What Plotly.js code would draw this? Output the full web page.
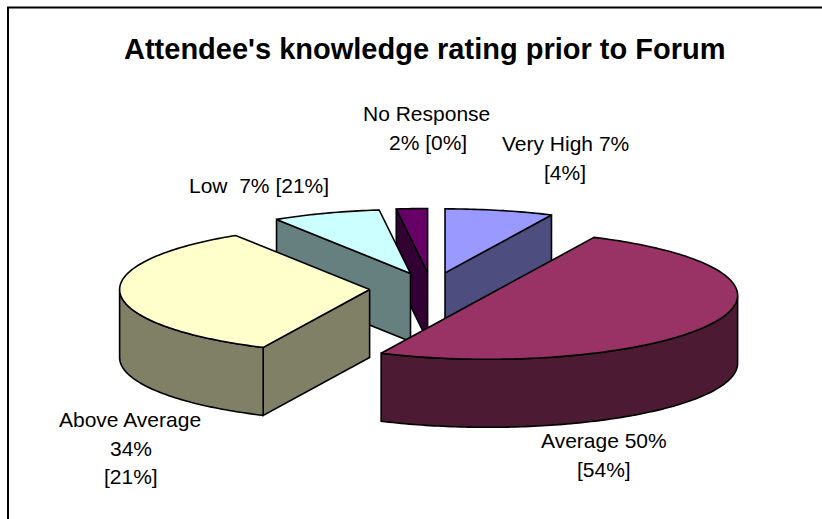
<!DOCTYPE html>
<html>
<head>
<meta charset="utf-8">
<script src="https://cdn.plot.ly/plotly-3.0.1.min.js"></script>
<style>html,body{margin:0;padding:0;background:#fff}#c{width:822px;height:519px}</style>
</head>
<body>
<div id="c"></div>
<script>
// Data (clockwise from 12 o'clock)
const categories = ['Very High', 'Average', 'Above Average', 'Low', 'No Response'];
const values = [7, 50, 34, 7, 2];
const priorValues = [4, 54, 21, 21, 0];
const titleText = "Attendee's knowledge rating prior to Forum";
const topColors = ['#9999FF', '#993366', '#FFFFCC', '#CCFFFF', '#660066'];
const sideColors = ['#4D4D80', '#4D1A33', '#808066', '#668080', '#330033'];
const drawOrder = [4, 3, 0, 2, 1];
const labelLines = [
  ['Very High 7%', '[4%]'],
  ['Average 50%', '[54%]'],
  ['Above Average', '34%', '[21%]'],
  ['Low  7% [21%]'],
  ['No Response', '2% [0%]']
];
const labelX = [[565, 565], [604, 604], [130, 131, 131], [259], [426, 428]];
const labelY = [[143, 172], [440, 469], [419, 448, 476], [185], [113, 142]];

// Projection of the tilted, exploded pie
const geo = {cx: 431.5, cy: 288.5, rx: 250, ry: 64, depth: 68, ex: 62, ey: 16};
const rad = d => d * Math.PI / 180;
const total = values.reduce((a, b) => a + b, 0);
const starts = [];
values.reduce((acc, v, i) => { starts[i] = acc; return acc + v; }, 0);

function slice(i) {
  const a = starts[i] / total * 360, b = a + values[i] / total * 360, m = (a + b) / 2;
  const ox = geo.cx + geo.ex * Math.sin(rad(m)), oy = geo.cy - geo.ey * Math.cos(rad(m));
  const pt = d => [ox + geo.rx * Math.sin(rad(d)), oy - geo.ry * Math.cos(rad(d))];
  return {a, b, ox, oy, pt};
}
function arc(s, from, to) {
  const n = Math.max(2, Math.ceil(Math.abs(to - from))), out = [];
  for (let k = 0; k <= n; k++) out.push(s.pt(from + (to - from) * k / n));
  return out;
}
function poly(pts, color, name) {
  const closed = pts.concat([pts[0]]);
  return {
    type: 'scatter', mode: 'lines', fill: 'toself', fillcolor: color, name,
    x: closed.map(p => p[0]), y: closed.map(p => p[1]),
    line: {color: '#000', width: 1.6, simplify: false}, hoverinfo: 'name', showlegend: false
  };
}
const traces = [];
drawOrder.forEach(i => {
  const s = slice(i), d = geo.depth, name = categories[i];
  const apex = [s.ox, s.oy];
  const face = ang => {
    const p = s.pt(ang);
    return [apex, p, [p[0], p[1] + d], [apex[0], apex[1] + d]];
  };
  if (Math.sin(rad(s.a)) < -1e-6) traces.push(poly(face(s.a), sideColors[i], name));
  if (Math.sin(rad(s.b)) > 1e-6) traces.push(poly(face(s.b), sideColors[i], name));
  const f = Math.max(s.a, 90), t = Math.min(s.b, 270);
  if (t > f) {
    const top = arc(s, f, t);
    const bottom = top.slice().reverse().map(p => [p[0], p[1] + d]);
    traces.push(poly(top.concat(bottom), sideColors[i], name));
  }
  traces.push(poly([apex].concat(arc(s, s.a, s.b)), topColors[i], name + ' ' + values[i] + '% [' + priorValues[i] + '%]'));
});

const annotations = [{
  text: '<b>' + titleText + '</b>', x: 424, y: 49, xref: 'x', yref: 'y', showarrow: false,
  xanchor: 'center', yanchor: 'middle', font: {family: 'Liberation Sans', size: 29, color: '#000'}
}];
labelLines.forEach((lines, i) => lines.forEach((text, j) => annotations.push({
  text, x: labelX[i][j], y: labelY[i][j], xref: 'x', yref: 'y', showarrow: false,
  xanchor: 'center', yanchor: 'middle', font: {family: 'Liberation Sans', size: 21, color: '#000'}
})));

const layout = {
  width: 822, height: 519, margin: {l: 0, r: 0, t: 0, b: 0},
  paper_bgcolor: '#fff', plot_bgcolor: '#fff', showlegend: false,
  xaxis: {range: [0, 822], visible: false, fixedrange: true},
  yaxis: {range: [519, 0], visible: false, fixedrange: true},
  annotations,
  shapes: [
    {type: 'line', xref: 'x', yref: 'y', x0: 7, y0: 7.5, x1: 822, y1: 7.5, line: {color: '#000', width: 2}},
    {type: 'line', xref: 'x', yref: 'y', x0: 8, y0: 7, x1: 8, y1: 519, line: {color: '#000', width: 2}}
  ]
};
Plotly.newPlot('c', traces, layout, {displayModeBar: false, responsive: false});
</script>
</body>
</html>
